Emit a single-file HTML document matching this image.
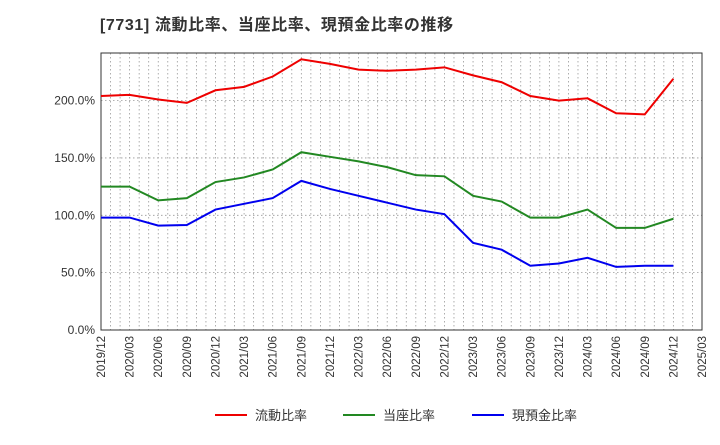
<!DOCTYPE html>
<html><head><meta charset="utf-8"><style>
body{margin:0;background:#fff;font-family:"Liberation Sans","Noto Sans CJK JP",sans-serif}
</style></head><body>
<svg id="c" width="720" height="440" xmlns="http://www.w3.org/2000/svg">
<text x="100" y="30" font-size="16" font-weight="bold" fill="#333" letter-spacing="0.6" font-family="Liberation Sans, Noto Sans CJK JP, sans-serif">[7731]  流動比率、当座比率、現預金比率の推移</text>
<g id="grid"></g><g id="axes"></g><g id="series"></g>
<g font-size="13" fill="#333">
<line x1="215" y1="415" x2="247" y2="415" stroke="#e00" stroke-width="2"/><text x="255" y="420">流動比率</text>
<line x1="343" y1="415" x2="375" y2="415" stroke="#228822" stroke-width="2"/><text x="383" y="420">当座比率</text>
<line x1="472" y1="415" x2="504" y2="415" stroke="#00e" stroke-width="2"/><text x="512" y="420">現預金比率</text>
</g>
</svg>
<script>
const categories=["2019/12","2020/03","2020/06","2020/09","2020/12","2021/03","2021/06","2021/09","2021/12","2022/03","2022/06","2022/09","2022/12","2023/03","2023/06","2023/09","2023/12","2024/03","2024/06","2024/09","2024/12"];
const tickLabels=["2019/12","2020/03","2020/06","2020/09","2020/12","2021/03","2021/06","2021/09","2021/12","2022/03","2022/06","2022/09","2022/12","2023/03","2023/06","2023/09","2023/12","2024/03","2024/06","2024/09","2024/12","2025/03"];
const currentRatio=[204,205,201,198,209,212,221,236,232,227,226,227,229,222,216,204,200,202,189,188,219];
const quickRatio=[125,125,113,115,129,133,140,155,151,147,142,135,134,117,112,98,98,105,89,89,97];
const cashRatio=[98,98,91,91.5,105,110,115,130,123,117,111,105,101,76,70,56,58,63,55,56,56];
const yTicks=[0,50,100,150,200];
const L=101,R=702,T=53,B=330,YMAX=241.5;
const NS="http://www.w3.org/2000/svg";
const x=i=>L+(R-L)*i/(tickLabels.length-1);
const y=v=>B-(B-T)*v/YMAX;
function mk(t,a,p){const e=document.createElementNS(NS,t);for(const k in a)e.setAttribute(k,a[k]);p.appendChild(e);return e;}
const g=document.getElementById('grid'),ax=document.getElementById('axes'),s=document.getElementById('series');
for(let m=1;m<63;m++){const xx=L+(R-L)*m/63;const l=mk('line',{x1:xx,x2:xx,y1:T,y2:B,stroke:'#999','stroke-dasharray':'1.5,2.5','stroke-width':0.8},g);

}
yTicks.forEach(v=>{if(v>0){const l=mk('line',{x1:L,x2:R,y1:y(v),y2:y(v),stroke:'#999','stroke-dasharray':'1.5,2.5','stroke-width':0.8},g);

}
const t=mk('text',{x:L-6,y:y(v)+4,'text-anchor':'end','font-size':12,fill:'#333'},ax);t.textContent=v.toFixed(1)+'%';

});
tickLabels.forEach((c,i)=>{const t=mk('text',{transform:`translate(${x(i)+4},${B+6}) rotate(-90)`,'text-anchor':'end','font-size':11.5,fill:'#333'},ax);t.textContent=c;

});
const fr=mk('rect',{x:L,y:T,width:R-L,height:B-T,fill:'none',stroke:'#333','stroke-width':1},ax);


[[currentRatio,'#e00','current-ratio-line'],[quickRatio,'#228822','quick-ratio-line'],[cashRatio,'#00e','cash-ratio-line']].forEach(([d,c,n])=>{
const p=mk('polyline',{points:d.map((v,i)=>x(i)+','+y(v)).join(' '),fill:'none',stroke:c,'stroke-width':2},s);

});
</script>
</body></html>
